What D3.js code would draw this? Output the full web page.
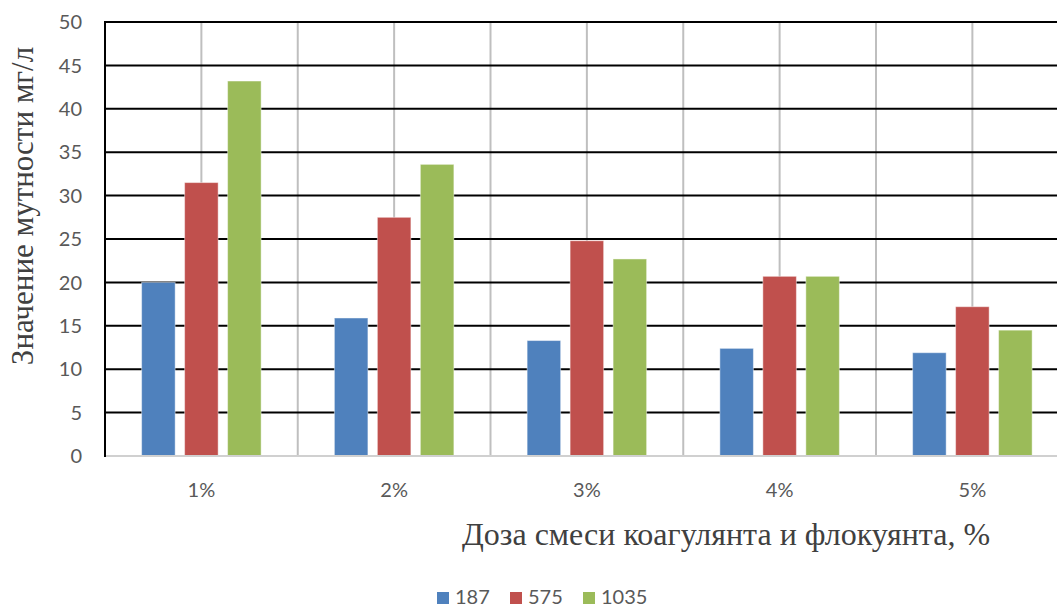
<!DOCTYPE html>
<html lang="ru">
<head>
  <meta charset="UTF-8">
  <title>Мутность</title>
  <script src="https://d3js.org/d3.v7.min.js"></script>
  <style>
    body { margin: 0; background: #fff; }
    .tick-lbl { font-family: Lato, "Open Sans", sans-serif; font-size: 20px; fill: #595959; }
    .title { font-family: "Liberation Serif", "DejaVu Serif", serif; fill: #404040; }
  </style>
</head>
<body>
<div id="chart"></div>
<script>
  // data
  var categories = ['1%', '2%', '3%', '4%', '5%']
  var seriesNames = ['187', '575', '1035']
  var values187 = [20.0, 15.9, 13.3, 12.4, 11.9]
  var values575 = [31.5, 27.5, 24.8, 20.7, 17.2]
  var values1035 = [43.2, 33.6, 22.7, 20.7, 14.5]
  var yTicks = [0, 5, 10, 15, 20, 25, 30, 35, 40, 45, 50]
  var colors = ['#4F81BD', '#C0504D', '#9BBB59']

  var width = 1057
  var height = 609
  var left = 105
  var top_y = 22
  var bottom_y = 456
  var catStep = 192.75

  var svg = d3.select('#chart')
    .append('svg')
    .attr('width', width)
    .attr('height', height)

  var xScale = d3.scaleBand()
    .domain(categories)
    .range([left, left + catStep * categories.length])
    .padding(0)

  var xInner = d3.scaleBand()
    .domain(seriesNames)
    .range([-59.75, 59.75])
    .paddingInner(0.22)

  var yScale = d3.scaleLinear()
    .domain([0, 50])
    .range([bottom_y, top_y])

  var allValues = [values187, values575, values1035]

  // vertical gridlines: band centres and band edges
  var vlines = []
  categories.forEach((c, i) => {
    if (i > 0) vlines.push(xScale(c))
    vlines.push(xScale(c) + xScale.bandwidth() / 2)
  })
  svg.selectAll('.vgrid')
    .data(vlines)
    .enter()
    .append('line')
    .attr('class', 'vgrid')
    .attr('x1', d => d).attr('x2', d => d)
    .attr('y1', top_y).attr('y2', bottom_y)
    .attr('stroke', '#bfbfbf')
    .attr('stroke-width', 2)

  // horizontal gridlines
  svg.selectAll('.hgrid')
    .data(yTicks.filter(d => d > 0))
    .enter()
    .append('line')
    .attr('class', 'hgrid')
    .attr('x1', left).attr('x2', width)
    .attr('y1', d => yScale(d)).attr('y2', d => yScale(d))
    .attr('stroke', '#000')
    .attr('stroke-width', 2)

  // bars
  for (let s = 0; s < seriesNames.length; s++) {
    svg.selectAll('.bar' + s)
      .data(allValues[s])
      .enter()
      .append('rect')
      .attr('class', 'bar' + s)
      .attr('x', (d, i) => xScale(categories[i]) + xScale.bandwidth() / 2 + xInner(seriesNames[s]))
      .attr('y', d => yScale(d))
      .attr('width', xInner.bandwidth())
      .attr('height', d => bottom_y - yScale(d))
      .attr('fill', colors[s])
      .attr('stroke', 'rgba(255,255,255,0.45)')
      .attr('stroke-width', 1)
  }

  // axes lines
  svg.append('line')
    .attr('x1', left).attr('x2', width)
    .attr('y1', bottom_y).attr('y2', bottom_y)
    .attr('stroke', '#d0d0d0')
    .attr('stroke-width', 2)
  svg.append('line')
    .attr('x1', left).attr('x2', left)
    .attr('y1', top_y - 1).attr('y2', bottom_y + 1)
    .attr('stroke', '#000')
    .attr('stroke-width', 2)

  // y tick labels
  svg.selectAll('.ylbl')
    .data(yTicks)
    .enter()
    .append('text')
    .attr('class', 'tick-lbl')
    .attr('x', 82)
    .attr('y', d => yScale(d))
    .attr('dy', '0.36em')
    .attr('text-anchor', 'end')
    .text(d => d)

  // x tick labels
  svg.selectAll('.xlbl')
    .data(categories)
    .enter()
    .append('text')
    .attr('class', 'tick-lbl')
    .attr('x', d => xScale(d) + xScale.bandwidth() / 2)
    .attr('y', 497)
    .attr('text-anchor', 'middle')
    .text(d => d)

  // titles
  svg.append('text')
    .attr('class', 'title')
    .style('font-size', '31px')
    .attr('transform', 'translate(33,206) rotate(-90)')
    .attr('text-anchor', 'middle')
    .text('Значение мутности мг/л')

  svg.append('text')
    .attr('class', 'title')
    .style('font-size', '32px')
    .attr('x', 726)
    .attr('y', 545)
    .attr('text-anchor', 'middle')
    .text('Доза смеси коагулянта и флокуянта, %')

  // legend
  var legendX = [437, 510, 583]
  var legend = svg.selectAll('.leg')
    .data(seriesNames)
    .enter()
    .append('g')
    .attr('transform', (d, i) => 'translate(' + legendX[i] + ',592)')
  legend.append('rect')
    .attr('width', 12).attr('height', 12)
    .attr('fill', (d, i) => colors[i])
  legend.append('text')
    .attr('class', 'tick-lbl')
    .attr('x', 18)
    .attr('y', 12)
    .text(d => d)
</script>
</body>
</html>
